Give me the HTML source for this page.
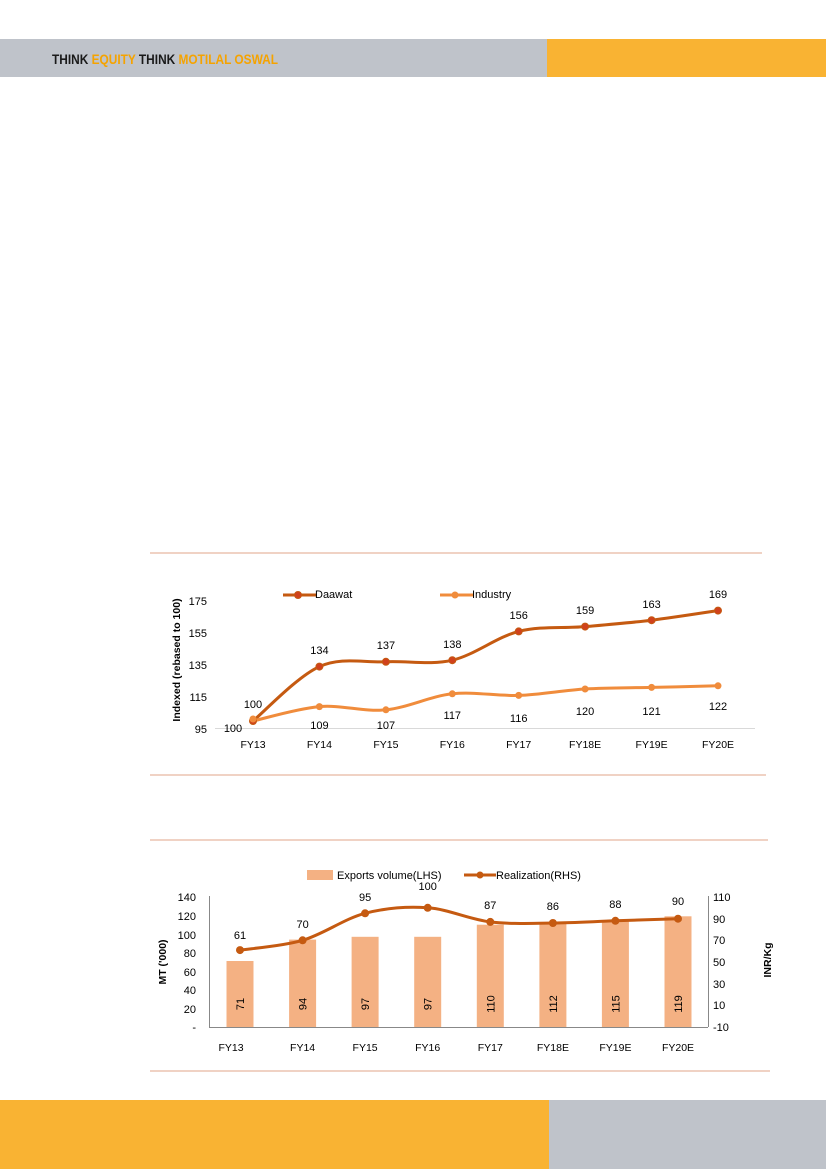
<!DOCTYPE html>
<html><head><meta charset="utf-8"><style>
html,body{margin:0;padding:0;background:#fff;}
body{width:826px;height:1169px;position:relative;overflow:hidden;font-family:"Liberation Sans",sans-serif;}
</style></head><body>
<svg width="826" height="1169" viewBox="0 0 826 1169" xmlns="http://www.w3.org/2000/svg" style="position:absolute;left:0;top:0" font-family="Liberation Sans, sans-serif">
<rect x="0" y="39" width="547" height="38" fill="#bfc3ca"/>
<rect x="547" y="39" width="279" height="38" fill="#f9b333"/>
<text x="52" y="64" font-family="Liberation Sans Narrow, Liberation Sans, sans-serif" font-weight="bold" font-size="14" textLength="226" lengthAdjust="spacingAndGlyphs"><tspan fill="#1a1a1a">THINK </tspan><tspan fill="#f5a300">EQUITY </tspan><tspan fill="#1a1a1a">THINK </tspan><tspan fill="#f5a300">MOTILAL OSWAL</tspan></text>
<rect x="0" y="1100" width="549" height="69" fill="#f9b333"/>
<rect x="549" y="1100" width="277" height="69" fill="#bfc3ca"/>

<line x1="150" y1="553" x2="762" y2="553" stroke="#e0a58a" stroke-width="1"/>
<line x1="150" y1="775" x2="766" y2="775" stroke="#e0a58a" stroke-width="1"/>
<line x1="215" y1="728.5" x2="755" y2="728.5" stroke="#d9d9d9" stroke-width="1"/>
<g font-size="11" fill="#000" text-anchor="end">
<text x="207" y="605">175</text><text x="207" y="637">155</text><text x="207" y="669">135</text><text x="207" y="701">115</text><text x="207" y="733">95</text>
</g>
<text transform="translate(180,660) rotate(-90)" font-size="10.5" font-weight="bold" text-anchor="middle">Indexed  (rebased to  100)</text>
<g font-size="10.5" text-anchor="middle">
<text x="253" y="748">FY13</text><text x="319.4" y="748">FY14</text><text x="385.9" y="748">FY15</text><text x="452.3" y="748">FY16</text><text x="518.7" y="748">FY17</text><text x="585.1" y="748">FY18E</text><text x="651.6" y="748">FY19E</text><text x="718" y="748">FY20E</text>
</g>
<line x1="283" y1="595" x2="317" y2="595" stroke="#c55a11" stroke-width="3"/><circle cx="298" cy="595" r="3.5" fill="#d0411c" stroke="#c55a11"/>
<text x="315" y="598" font-size="11">Daawat</text>
<line x1="440" y1="595" x2="474" y2="595" stroke="#f08c3c" stroke-width="3"/><circle cx="455" cy="595" r="3.5" fill="#f08c3c"/>
<text x="472" y="598" font-size="11">Industry</text>
<path d="M253,721 C264.1,711.9 297.3,676.5 319.4,666.6 C341.5,656.7 363.8,662.9 385.9,661.8 C408,660.7 430.2,665.3 452.3,660.2 C474.4,655.1 496.6,637 518.7,631.4 C540.8,625.8 563,628.5 585.1,626.6 C607.2,624.7 629.5,622.9 651.6,620.2 C673.7,617.5 707,612.2 718,610.6" fill="none" stroke="#c55a11" stroke-width="3"/>
<path d="M253,721 C264.1,718.6 297.3,708.5 319.4,706.6 C341.5,704.7 363.8,712 385.9,709.8 C408,707.6 430.2,696.2 452.3,693.8 C474.4,691.4 496.6,696.2 518.7,695.4 C540.8,694.6 563,690.3 585.1,689 C607.2,687.7 629.5,687.9 651.6,687.4 C673.7,686.9 707,686.1 718,685.8" fill="none" stroke="#f08c3c" stroke-width="3"/>
<g fill="#d0411c" stroke="#c55a11" stroke-width="1">
<circle cx="253" cy="721" r="3.5"/><circle cx="319.4" cy="666.6" r="3.5"/><circle cx="385.9" cy="661.8" r="3.5"/><circle cx="452.3" cy="660.2" r="3.5"/><circle cx="518.7" cy="631.4" r="3.5"/><circle cx="585.1" cy="626.6" r="3.5"/><circle cx="651.6" cy="620.2" r="3.5"/><circle cx="718" cy="610.6" r="3.5"/>
</g>
<g fill="#f08c3c">
<circle cx="253" cy="719" r="3.5"/><circle cx="319.4" cy="706.6" r="3.5"/><circle cx="385.9" cy="709.8" r="3.5"/><circle cx="452.3" cy="693.8" r="3.5"/><circle cx="518.7" cy="695.4" r="3.5"/><circle cx="585.1" cy="689" r="3.5"/><circle cx="651.6" cy="687.4" r="3.5"/><circle cx="718" cy="685.8" r="3.5"/>
</g>
<g font-size="11" text-anchor="middle">
<text x="253" y="708">100</text><text x="319.4" y="654">134</text><text x="385.9" y="649">137</text><text x="452.3" y="648">138</text><text x="518.7" y="619">156</text><text x="585.1" y="614">159</text><text x="651.6" y="608">163</text><text x="718" y="598">169</text>
<text x="233" y="732">100</text><text x="319.4" y="729">109</text><text x="385.9" y="729">107</text><text x="452.3" y="719">117</text><text x="518.7" y="722">116</text><text x="585.1" y="715">120</text><text x="651.6" y="715">121</text><text x="718" y="710">122</text>
</g>

<line x1="150" y1="840" x2="768" y2="840" stroke="#e0a58a" stroke-width="1"/>
<line x1="150" y1="1071" x2="770" y2="1071" stroke="#e0a58a" stroke-width="1"/>
<g fill="#f4b183">
<rect x="226.5" y="961" width="27" height="66"/>
<rect x="289.1" y="939.6" width="27" height="87.4"/>
<rect x="351.6" y="936.8" width="27" height="90.2"/>
<rect x="414.2" y="936.8" width="27" height="90.2"/>
<rect x="476.8" y="924.7" width="27" height="102.3"/>
<rect x="539.4" y="922.8" width="27" height="104.2"/>
<rect x="601.9" y="920" width="27" height="107"/>
<rect x="664.5" y="916.3" width="27" height="110.7"/>
</g>
<g stroke="#888" stroke-width="1" fill="none">
<line x1="209.5" y1="896" x2="209.5" y2="1027"/>
<line x1="708.5" y1="896" x2="708.5" y2="1027"/>
<line x1="209" y1="1027.5" x2="708" y2="1027.5"/>
</g>
<g font-size="11" text-anchor="end">
<text x="196" y="901">140</text><text x="196" y="920">120</text><text x="196" y="939">100</text><text x="196" y="957">80</text><text x="196" y="976">60</text><text x="196" y="994">40</text><text x="196" y="1013">20</text><text x="196" y="1031">-</text>
</g>
<g font-size="11" text-anchor="start">
<text x="713" y="901">110</text><text x="713" y="923">90</text><text x="713" y="944">70</text><text x="713" y="966">50</text><text x="713" y="988">30</text><text x="713" y="1009">10</text><text x="713" y="1031">-10</text>
</g>
<g font-size="10.5" text-anchor="middle">
<text x="231" y="1051">FY13</text><text x="302.6" y="1051">FY14</text><text x="365.1" y="1051">FY15</text><text x="427.7" y="1051">FY16</text><text x="490.3" y="1051">FY17</text><text x="552.9" y="1051">FY18E</text><text x="615.4" y="1051">FY19E</text><text x="678" y="1051">FY20E</text>
</g>
<text transform="translate(166,962) rotate(-90)" font-size="10.5" font-weight="bold" text-anchor="middle">MT ('000)</text>
<text transform="translate(771,960) rotate(-90)" font-size="10.5" font-weight="bold" text-anchor="middle">INR/Kg</text>
<g font-size="11" text-anchor="middle">
<text transform="translate(244,1004) rotate(-90)">71</text>
<text transform="translate(306.6,1004) rotate(-90)">94</text>
<text transform="translate(369.1,1004) rotate(-90)">97</text>
<text transform="translate(431.7,1004) rotate(-90)">97</text>
<text transform="translate(494.3,1004) rotate(-90)">110</text>
<text transform="translate(556.9,1004) rotate(-90)">112</text>
<text transform="translate(619.4,1004) rotate(-90)">115</text>
<text transform="translate(682,1004) rotate(-90)">119</text>
</g>
<rect x="307" y="870" width="26" height="10" fill="#f4b183"/>
<text x="337" y="879" font-size="11">Exports volume(LHS)</text>
<line x1="464" y1="875" x2="496" y2="875" stroke="#c55a11" stroke-width="3"/><circle cx="480" cy="875" r="3.5" fill="#c55a11"/>
<text x="496" y="879" font-size="11">Realization(RHS)</text>
<path d="M240,950.1 C250.4,948.5 281.7,946.4 302.6,940.3 C323.5,934.2 344.2,918.7 365.1,913.3 C386,907.9 406.8,906.4 427.7,907.8 C448.6,909.2 469.4,919.4 490.3,921.9 C511.2,924.4 532,923.2 552.9,923 C573.8,922.8 594.5,921.5 615.4,920.8 C636.3,920.1 667.6,919.1 678,918.7" fill="none" stroke="#c55a11" stroke-width="3"/>
<g fill="#c55a11">
<circle cx="240" cy="950.1" r="4"/><circle cx="302.6" cy="940.3" r="4"/><circle cx="365.1" cy="913.3" r="4"/><circle cx="427.7" cy="907.8" r="4"/><circle cx="490.3" cy="921.9" r="4"/><circle cx="552.9" cy="923" r="4"/><circle cx="615.4" cy="920.8" r="4"/><circle cx="678" cy="918.7" r="4"/>
</g>
<g font-size="11" text-anchor="middle">
<text x="240" y="939">61</text><text x="302.6" y="928">70</text><text x="365.1" y="901">95</text><text x="427.7" y="890">100</text><text x="490.3" y="909">87</text><text x="552.9" y="910">86</text><text x="615.4" y="908">88</text><text x="678" y="905">90</text>
</g>
</svg>
</body></html>
